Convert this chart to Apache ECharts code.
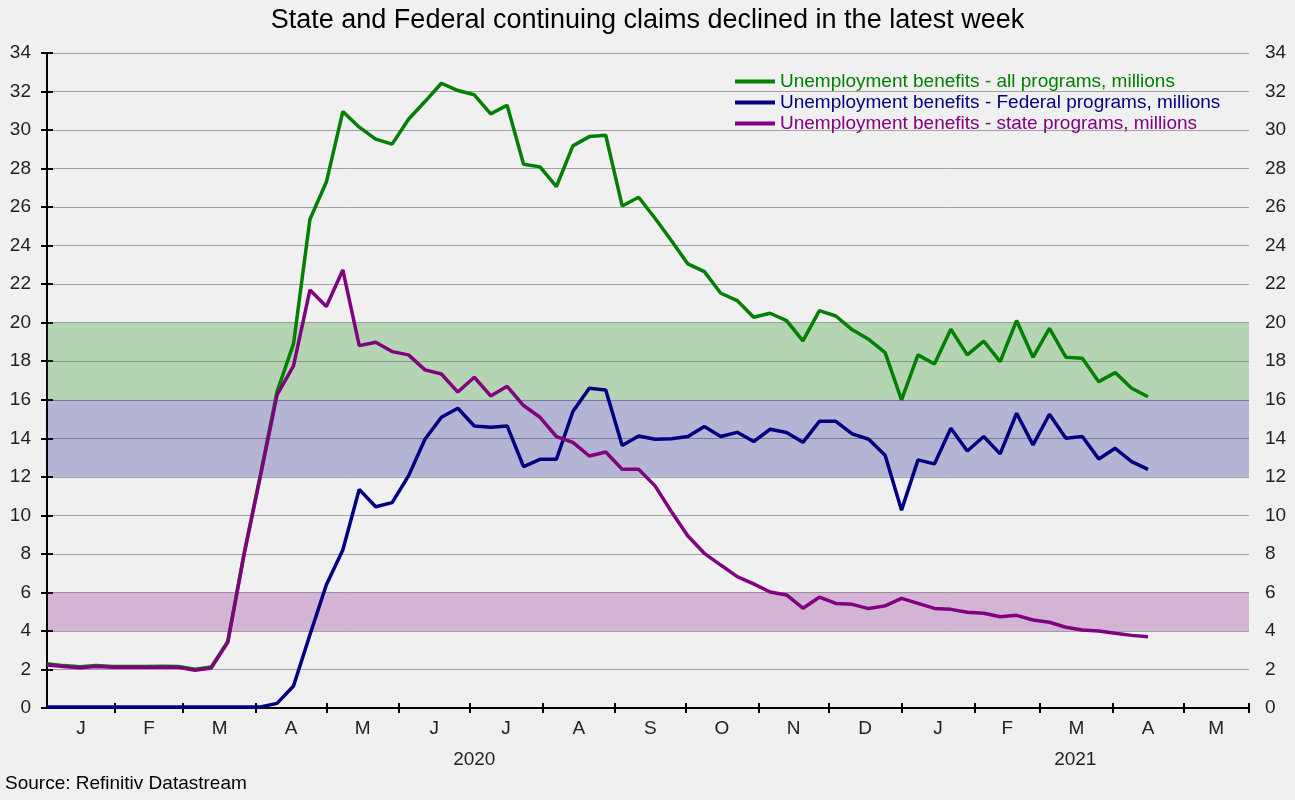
<!DOCTYPE html>
<html>
<head>
<meta charset="utf-8">
<script src="https://cdn.jsdelivr.net/npm/echarts@6/dist/echarts.min.js"></script>
<style>
html,body{margin:0;padding:0;background:#f0f0f0;}
#chart{width:1295px;height:800px;}
</style>
</head>
<body>
<div id="chart"></div>
<script>
// ---- data (weekly, first week 2020-01-03) ----
const startDate = '2020-01-03';
const weekCount = 68;
const allPrograms = [2.30,2.20,2.14,2.20,2.16,2.16,2.16,2.17,2.16,2.01,2.13,3.46,8.05,12.15,16.42,18.90,25.37,27.30,30.96,30.15,
  29.53,29.27,30.56,31.48,32.43,32.05,31.83,30.84,31.29,28.23,28.09,27.07,29.18,29.66,29.73,26.06,26.51,25.42,24.25,23.05,
  22.65,21.53,21.15,20.28,20.49,20.11,19.06,20.63,20.35,19.63,19.14,18.45,15.99,18.33,17.86,19.66,18.33,19.04,17.98,20.11,
  18.21,19.70,18.21,18.16,16.94,17.41,16.60,16.16];
const federalPrograms = [0.05,0.05,0.05,0.05,0.05,0.05,0.05,0.05,0.05,0.05,0.05,0.05,0.05,0.05,0.24,1.14,3.80,6.40,8.20,11.35,
  10.45,10.66,12.05,13.95,15.09,15.56,14.64,14.57,14.64,12.53,12.91,12.91,15.39,16.60,16.51,13.62,14.12,13.95,13.98,14.09,
  14.61,14.09,14.31,13.83,14.47,14.30,13.79,14.88,14.88,14.23,13.95,13.12,10.27,12.88,12.67,14.52,13.34,14.09,13.19,15.30,
  13.66,15.25,14.00,14.09,12.93,13.48,12.79,12.39];
const statePrograms = [2.23,2.15,2.09,2.15,2.11,2.11,2.11,2.12,2.11,1.96,2.08,3.41,8.00,12.10,16.25,17.76,21.70,20.84,22.74,18.81,
  18.99,18.50,18.33,17.55,17.34,16.40,17.17,16.20,16.70,15.70,15.09,14.09,13.79,13.08,13.29,12.39,12.39,11.53,10.19,8.93,
  8.03,7.42,6.82,6.44,6.02,5.87,5.18,5.75,5.43,5.38,5.16,5.30,5.69,5.43,5.17,5.12,4.97,4.92,4.74,4.81,
  4.57,4.45,4.19,4.05,4.00,3.88,3.77,3.70];
const seriesNames = ['Unemployment benefits - all programs, millions',
  'Unemployment benefits - Federal programs, millions',
  'Unemployment benefits - state programs, millions'];
const monthLetters = ['J','F','M','A','M','J','J','A','S','O','N','D','J','F','M','A','M'];
const yearLabels = ['2020','2021'];
const axisEnd = '2021-05-29';
const bands = [[16,20],[12,16],[4,6]];

// ---- helpers ----
const DAY = 86400000;
const t0 = Date.parse(startDate + 'T00:00:00Z');
const dayOf = (y,m,d) => (Date.UTC(y,m-1,d) - t0) / DAY;
const maxDay = (Date.parse(axisEnd + 'T00:00:00Z') - t0) / DAY;
const weekDays = [];
for (let k = 0; k < weekCount; k++) weekDays.push(k * 7);

// month boundaries (Jan 2020 .. May 2021)
const monthStarts = [];
for (let i = 0; i < monthLetters.length; i++) {
  const y = 2020 + Math.floor(i / 12), m = (i % 12) + 1;
  monthStarts.push(Math.max(0, dayOf(y, m, 1)));
}
const tickVals = monthStarts.slice(1).concat([maxDay]);
const monthMid = [], labelMap = {};
for (let i = 0; i < monthLetters.length; i++) {
  const a = monthStarts[i], b = (i + 1 < monthStarts.length) ? monthStarts[i + 1] : maxDay;
  const mid = (a + b) / 2;
  monthMid.push(mid);
  labelMap[mid.toFixed(3)] = monthLetters[i];
}
const y2021 = dayOf(2021,1,1);
const yearMid = [(0 + y2021) / 2, (y2021 + maxDay) / 2];
const yearMap = {};
yearMid.forEach((v, i) => yearMap[v.toFixed(3)] = yearLabels[i]);

const pair = arr => arr.map((v, i) => [weekDays[i], v]);
const colors = ['#008000', '#000080', '#800080'];
const bandColors = ['rgba(0,128,0,0.25)', 'rgba(0,0,128,0.25)', 'rgba(128,0,128,0.25)'];
const FONT = 'Liberation Sans, Arial, sans-serif';

const chart = echarts.init(document.getElementById('chart'));
chart.setOption({
  animation: false,
  backgroundColor: '#f0f0f0',
  textStyle: { fontFamily: FONT },
  title: {
    text: 'State and Federal continuing claims declined in the latest week',
    left: 'center', top: 2,
    textStyle: { fontSize: 27, fontWeight: 'normal', color: '#000', fontFamily: FONT }
  },
  graphic: [{
    type: 'text', left: 5, top: 774,
    style: { text: 'Source: Refinitiv Datastream', fontSize: 19, fill: '#000', fontFamily: FONT }
  }],
  legend: {
    orient: 'vertical', left: 730, top: 67, itemWidth: 40, itemHeight: 4, itemGap: 2,
    icon: 'rect',
    textStyle: { fontSize: 19, fontFamily: FONT },
    data: seriesNames.map((n, i) => ({ name: n, textStyle: { color: colors[i] } }))
  },
  grid: { left: 47, right: 46, top: 53, bottom: 92 },
  xAxis: [{
    type: 'value', min: 0, max: maxDay, position: 'bottom',
    axisLine: { show: true, onZero: false, lineStyle: { color: '#000', width: 2 } },
    axisTick: { show: true, customValues: tickVals, length: 5, lineStyle: { color: '#000', width: 2 } },
    axisLabel: { customValues: monthMid, formatter: v => labelMap[v.toFixed(3)] || '', fontSize: 19, color: '#222', margin: 11, fontFamily: FONT },
    splitLine: { show: false }
  }, {
    type: 'value', min: 0, max: maxDay, position: 'bottom', offset: 0,
    axisLine: { show: false, onZero: false },
    axisTick: { show: true, inside: true, customValues: tickVals, length: 5, lineStyle: { color: '#000', width: 2 } },
    axisLabel: { customValues: yearMid, formatter: v => yearMap[v.toFixed(3)] || '', fontSize: 19, color: '#222', margin: 42, fontFamily: FONT },
    splitLine: { show: false }
  }],
  yAxis: [{
    type: 'value', min: 0, max: 34, interval: 2, position: 'left',
    axisLine: { show: true, lineStyle: { color: '#000', width: 2 } },
    axisTick: { show: true, inside: true, length: 6, lineStyle: { color: '#000', width: 2 } },
    axisLabel: { fontSize: 19, color: '#222', margin: 16, fontFamily: FONT },
    splitLine: { show: true, lineStyle: { color: '#a0a0a0', width: 1 } }
  }, {
    type: 'value', min: 0, max: 34, interval: 2, position: 'right',
    axisLine: { show: true, lineStyle: { color: '#000', width: 2 } },
    axisTick: { show: true, inside: true, length: 6, lineStyle: { color: '#000', width: 2 } },
    axisLabel: { fontSize: 19, color: '#222', margin: 16, fontFamily: FONT },
    splitLine: { show: false }
  }],
  series: [
    {
      name: seriesNames[0], type: 'line', data: pair(allPrograms), showSymbol: false, symbol: 'none',
      lineStyle: { width: 3.5, color: colors[0] }, itemStyle: { color: colors[0] },
      markArea: {
        silent: true,
        data: bands.map((b, i) => [{ yAxis: b[0], itemStyle: { color: bandColors[i] } }, { yAxis: b[1] }])
      }
    },
    { name: seriesNames[1], type: 'line', data: pair(federalPrograms), showSymbol: false, symbol: 'none',
      lineStyle: { width: 3.5, color: colors[1] }, itemStyle: { color: colors[1] } },
    { name: seriesNames[2], type: 'line', data: pair(statePrograms), showSymbol: false, symbol: 'none',
      lineStyle: { width: 3.5, color: colors[2] }, itemStyle: { color: colors[2] } }
  ]
});
</script>
</body>
</html>
